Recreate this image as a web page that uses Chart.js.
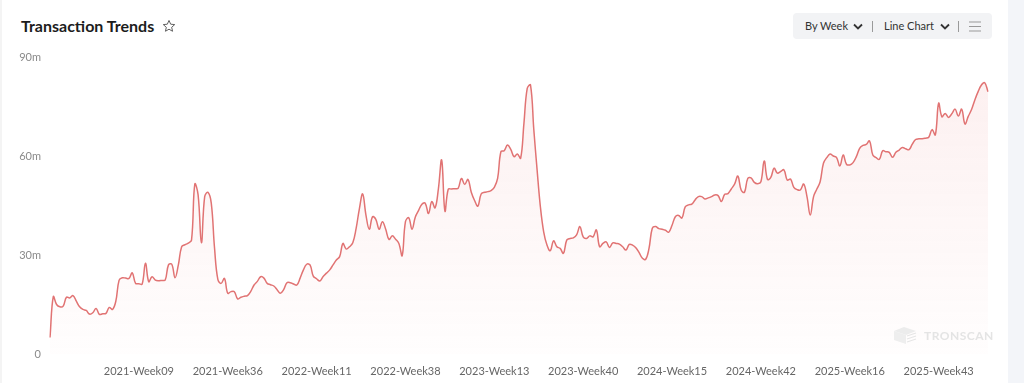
<!DOCTYPE html>
<html>
<head>
<meta charset="utf-8">
<script src="https://cdn.jsdelivr.net/npm/chart.js@4.4.1/dist/chart.umd.min.js"></script>
<style>
    html, body {
        margin: 0;
        padding: 0;
        background: #ffffff;
        font-family: Lato, "Open Sans", sans-serif;
    }
    #wrap {
        position: relative;
        width: 1024px;
        height: 383px;
        overflow: hidden;
        background: #ffffff;
    }
    #sideStrip {
        position: absolute;
        left: 1008px;
        top: 0;
        width: 16px;
        height: 383px;
        background: #f3f5f9;
    }
    #edge {
        position: absolute;
        left: 0;
        top: 0;
        width: 2px;
        height: 383px;
        background: #f4f4f4;
    }
    #title {
        position: absolute;
        left: 21px;
        top: 16px;
        font-size: 16px;
        font-weight: 700;
        color: #1c1c1c;
        display: flex;
        align-items: center;
        white-space: nowrap;
    }
    #title svg {
        margin-left: 8px;
    }
    #controls {
        position: absolute;
        left: 793px;
        top: 13px;
        width: 199px;
        height: 26px;
        background: #f2f3f5;
        border-radius: 4px;
        font-size: 11px;
        color: #333333;
        white-space: nowrap;
    }
    #controls > * {
        position: absolute;
    }
    #controls .item {
        top: 6px;
        line-height: 14px;
    }
    #controls .sep {
        top: 8px;
        width: 1px;
        height: 11px;
        background: #9a9a9a;
    }
    #watermark {
        position: absolute;
        left: 892px;
        top: 325px;
        display: flex;
        align-items: center;
        color: #e4e4e4;
        font-size: 12px;
        font-weight: 700;
        letter-spacing: 0.5px;
    }
    #chartBox {
        position: absolute;
        left: 0;
        top: 0;
        width: 1008px;
        height: 383px;
    }
</style>
</head>
<body>
<div id="wrap">
    <div id="edge"></div>
    <div id="sideStrip"></div>

    <div id="title">
        Transaction Trends
        <svg width="14" height="14" viewBox="0 0 24 24">
            <polygon points="12,2.5 14.9,8.9 21.8,9.6 16.6,14.2 18.1,21 12,17.5 5.9,21 7.4,14.2 2.2,9.6 9.1,8.9"
                fill="none" stroke="#555" stroke-width="1.6" stroke-linejoin="round"/>
        </svg>
    </div>

    <div id="controls">
        <div class="item" style="left:12px;">By Week</div>
        <svg style="left:60px; top:10px;" width="10" height="7" viewBox="0 0 10 7">
            <polyline points="1,1.5 5,5.5 9,1.5" fill="none" stroke="#333" stroke-width="1.8"/>
        </svg>
        <div class="sep" style="left:79px;"></div>
        <div class="item" style="left:91px;">Line Chart</div>
        <svg style="left:147px; top:10px;" width="10" height="7" viewBox="0 0 10 7">
            <polyline points="1,1.5 5,5.5 9,1.5" fill="none" stroke="#333" stroke-width="1.8"/>
        </svg>
        <div class="sep" style="left:165px;"></div>
        <svg style="left:176px; top:8px;" width="12" height="11" viewBox="0 0 12 11">
            <line x1="0" y1="1" x2="12" y2="1" stroke="#999" stroke-width="1"/>
            <line x1="0" y1="5.5" x2="12" y2="5.5" stroke="#999" stroke-width="1"/>
            <line x1="0" y1="10" x2="12" y2="10" stroke="#999" stroke-width="1"/>
        </svg>
    </div>

    <div id="chartBox">
        <canvas id="lineChart" width="1008" height="383"></canvas>
    </div>

    <div id="watermark">
        <svg width="26" height="20" viewBox="0 0 26 20">
            <polygon points="2,6 12,2 24,6 14,10" fill="#ececec"/>
            <polygon points="2,6 14,10 14,19 2,15" fill="#eeeeee"/>
            <line x1="15" y1="11" x2="24" y2="8" stroke="#e6e6e6" stroke-width="1.2"/>
            <line x1="15" y1="14" x2="24" y2="11" stroke="#e6e6e6" stroke-width="1.2"/>
            <line x1="15" y1="17" x2="24" y2="14" stroke="#e6e6e6" stroke-width="1.2"/>
        </svg>
        <span style="margin-left:6px;">TRONSCAN</span>
    </div>
</div>

<script>
// week sequence starts at 2020-Week35, one point per week
const startYear = 2020;
const startWeek = 35;
const weeksInYear = { 2020: 53, 2021: 52, 2022: 52, 2023: 52, 2024: 53, 2025: 52, 2026: 52 };

// tick labels shown on the x axis
const xTickLabels = [
    "2021-Week09", "2021-Week36", "2022-Week11", "2022-Week38", "2023-Week13",
    "2023-Week40", "2024-Week15", "2024-Week42", "2025-Week16", "2025-Week43"
];

// y axis ticks (millions)
const yTicks = [0, 30, 60, 90];

// weekly transactions, in millions
const txValues = [
    5, 17.4, 15, 14.3, 14.5, 17.2, 17, 17.7, 16, 14.3,
    13.5, 13.2, 12.1, 12.5, 13.8, 12, 12.2, 12.3, 14.1, 13.5,
    16, 22.4, 23.1, 23, 22.9, 24.6, 21.4, 21.3, 21.2, 27.5,
    21.9, 23.4, 22.4, 22.2, 22.3, 22.4, 27, 27.2, 23.1, 27,
    32.5, 33.1, 33.6, 34.5, 51.5, 48.2, 33.7, 47.7, 49, 45.7,
    32, 22.6, 21.4, 22.9, 18.4, 18.9, 18.9, 16.7, 17.2, 17.5,
    17.7, 19, 20.9, 22, 23.4, 23, 21.4, 21, 20.6, 19.5,
    18.4, 19.5, 21.6, 21.6, 21.2, 20.9, 23, 25.5, 27.2, 27,
    23.6, 22.8, 22.1, 23.5, 24.5, 25.5, 27, 28.5, 29.5, 33.5,
    31.8, 32.5, 33.7, 38, 44, 48.5, 42.1, 37.8, 41.6, 40.8,
    37.8, 40.1, 37.8, 34.7, 35.8, 34.8, 33.5, 29.8, 40.1, 41.3,
    37.8, 41.5, 43.5, 45.4, 45.7, 42.6, 46.2, 44.3, 50, 58.8,
    43.3, 49.9, 50, 50.1, 50.2, 53.2, 51.4, 52.9, 49, 46.5,
    44.8, 48.5, 49, 49.2, 49.5, 50.5, 53.2, 61.3, 61.6, 63.3,
    62, 59.8, 60.6, 59.3, 69.9, 80.5, 81.5, 68, 55.8, 44.6,
    37, 33, 31.3, 34.3, 32.5, 32, 30.5, 34.5, 35, 35.2,
    36.1, 38.6, 35.5, 35, 35.8, 35.5, 37.6, 32.5, 33.5, 34,
    32.3, 33.7, 33.5, 33.3, 32.5, 31.5, 33.2, 33, 32.2, 30.7,
    29, 28.7, 32, 38.1, 38.6, 38, 37.8, 37.5, 36.9, 39,
    41.6, 42, 41.2, 44.6, 45.2, 45.4, 46.7, 47.7, 47.7, 47,
    47.3, 47.7, 48.2, 48, 46.2, 48.4, 48.6, 50, 51.5, 53.9,
    49.7, 49, 53.2, 53.4, 52, 51.6, 52.2, 58.5, 52.9, 53.5,
    56.3, 54.8, 55.3, 55.8, 52.7, 53, 50.5, 49.8, 49.7, 51.5,
    47.7, 42.1, 47.7, 50, 52.2, 57.8, 59.5, 60.6, 60, 59.5,
    57, 60.3, 57.5, 57.3, 58, 59.8, 62.3, 63.2, 63.5, 64.6,
    60.3, 59.5, 59, 61.6, 61.3, 61.1, 59.6, 61.1, 61.8, 62.6,
    62.2, 61.9, 63.6, 65, 65.2, 65.2, 65.4, 65.7, 68, 66.4,
    76, 71.9, 72.9, 71.7, 72.8, 74.2, 72.1, 74.2, 69.7, 72,
    74.1, 77, 79.5, 81.5, 82.2, 79.5
];

const weekLabels = [];
let year = startYear;
let week = startWeek;
for (let i = 0; i < txValues.length; i++) {
    weekLabels.push(year + "-Week" + String(week).padStart(2, "0"));
    week++;
    if (week > weeksInYear[year]) {
        week = 1;
        year++;
    }
}

function fillGradient(context) {
    const area = context.chart.chartArea;
    if (!area) {
        return "rgba(232,110,110,0.08)";
    }
    const g = context.chart.ctx.createLinearGradient(0, area.top, 0, area.bottom);
    g.addColorStop(0, "rgba(232,110,110,0.11)");
    g.addColorStop(1, "rgba(232,110,110,0.01)");
    return g;
}

new Chart(
    document.getElementById("lineChart"),
    {
        type: "line",

        data: {
            labels: weekLabels,

            datasets: [{
                label: "Transactions",
                data: txValues,
                borderColor: "#e17373",
                borderWidth: 1.5,
                backgroundColor: fillGradient,
                fill: "origin",
                pointRadius: 0,
                tension: 0.4
            }]
        },

        options: {
            responsive: false,
            animation: false,
            layout: {
                padding: { top: 57, right: 20, bottom: 0, left: 0 }
            },
            plugins: {
                legend: { display: false },
                tooltip: { enabled: false }
            },
            scales: {
                x: {
                    grid: { display: false, drawTicks: false },
                    border: { display: false },
                    afterFit: function (scale) {
                        scale.height = 29;
                    },
                    ticks: {
                        autoSkip: false,
                        maxRotation: 0,
                        padding: 11,
                        color: "#666666",
                        font: { family: "Lato", size: 11 },
                        callback: function (value, index) {
                            const lbl = weekLabels[index];
                            return xTickLabels.includes(lbl) ? lbl : "";
                        }
                    }
                },
                y: {
                    min: 0,
                    max: 90,
                    grid: { display: false, drawTicks: false },
                    border: { display: false },
                    afterFit: function (scale) {
                        scale.width = 50;
                    },
                    afterBuildTicks: function (scale) {
                        scale.ticks = yTicks.map(v => ({ value: v }));
                    },
                    ticks: {
                        padding: 9,
                        color: "#8a8a8a",
                        font: { family: "Lato", size: 11 },
                        callback: function (value) {
                            return value === 0 ? "0" : value + "m";
                        }
                    }
                }
            }
        }
    }
);
</script>
</body>
</html>
